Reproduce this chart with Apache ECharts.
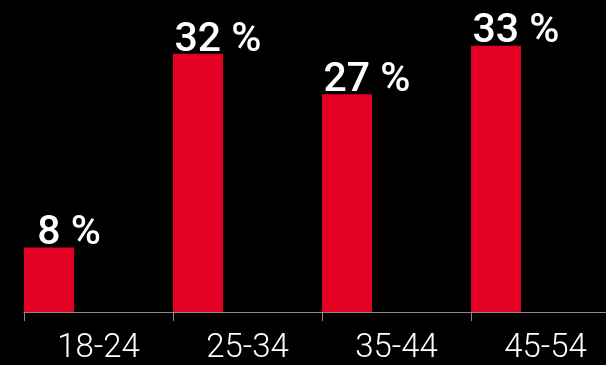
<!DOCTYPE html>
<html>
<head>
<meta charset="utf-8">
<script src="https://cdn.jsdelivr.net/npm/echarts@6/dist/echarts.min.js"></script>
<style>
  html, body { margin: 0; padding: 0; background: #000; }
  #chart { width: 606px; height: 365px; }
</style>
</head>
<body>
<div id="chart"></div>
<script>
const ageGroups = ['18-24', '25-34', '35-44', '45-54']
const shares = [8, 32, 27, 33]

const chart = echarts.init(document.getElementById('chart'))
chart.setOption({
  backgroundColor: '#000',
  animation: false,
  grid: { left: 24, right: -14, top: 21.5, bottom: 53, outerBoundsMode: 'none', containLabel: false },
  xAxis: {
    type: 'category',
    data: ageGroups,
    axisLine: { lineStyle: { color: '#8c8c8c', width: 1 } },
    axisTick: { show: true, length: 9, lineStyle: { color: '#8c8c8c' } },
    axisLabel: {
      color: '#fff',
      fontFamily: 'Roboto',
      fontWeight: 300,
      fontSize: 33,
      margin: 20,
    },
  },
  yAxis: { type: 'value', min: 0, max: 36, show: false },
  series: [
    {
      name: 'share',
      type: 'bar',
      data: shares,
      barWidth: 50,
      barGap: '0%',
      barCategoryGap: '0%',
      itemStyle: { color: '#e30022' },
      label: {
        show: true,
        position: 'top',
        distance: -7,
        offset: [20, 0],
        formatter: (p) => p.value + ' %',
        color: '#fff',
        fontFamily: 'Roboto',
        fontWeight: 500,
        fontSize: 41,
      },
    },
    {
      name: 'pad',
      type: 'bar',
      data: shares.map(() => '-'),
      barWidth: 99,
      silent: true,
    },
  ],
})
</script>
</body>
</html>
